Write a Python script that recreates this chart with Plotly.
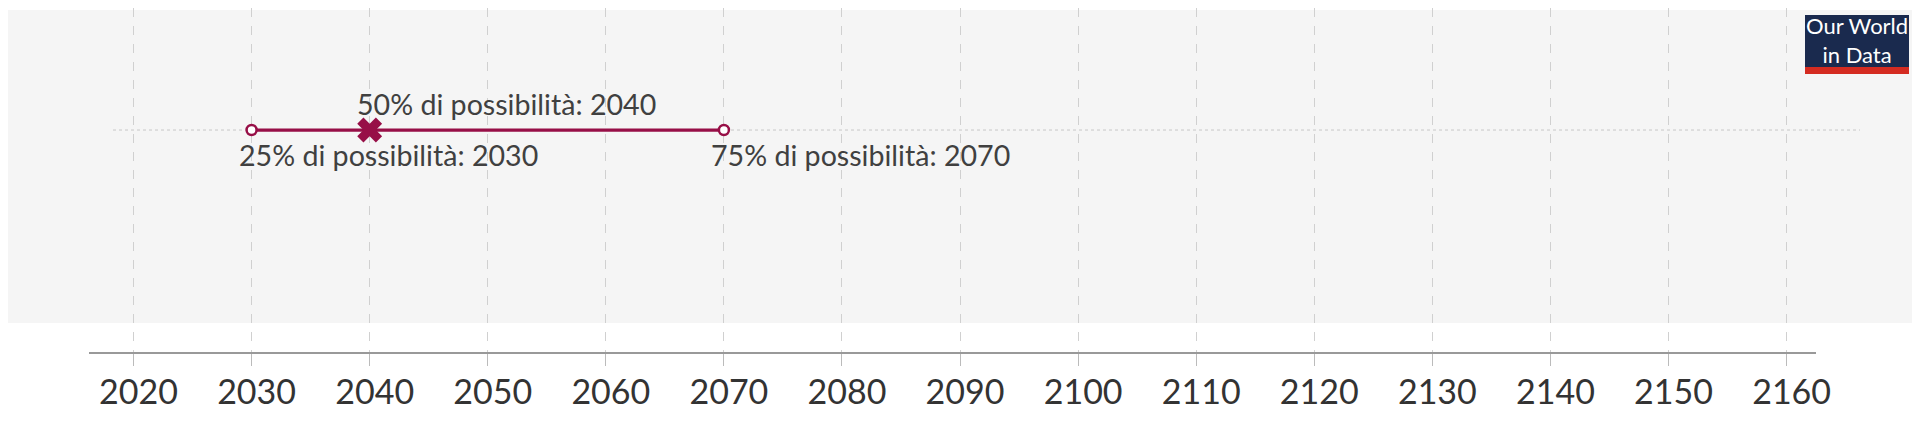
import plotly.graph_objects as go

# probability thresholds and the year they point to
chances = ["25%", "50%", "75%"]
years = [2030, 2040, 2070]
tick_years = list(range(2020, 2161, 10))

crimson = "#970f47"
text_color = "#404040"

# the page puts the figure 8px in from the corner, so work in page pixels
PLOT_L, PLOT_R, AXIS_Y = 89, 1816, 352
PLOT_W = PLOT_R - PLOT_L
PLOT_H = AXIS_Y - 8


def px(x):
    return (x - PLOT_L) / PLOT_W


def py(y):
    return (AXIS_Y - y) / PLOT_H


fig = go.Figure()

# range line between the 25% and 75% years
fig.add_trace(go.Scatter(
    x=[years[0], years[2]], y=[0, 0],
    mode="lines+markers",
    line=dict(color=crimson, width=3.2),
    marker=dict(symbol="circle", size=10, color="white",
                line=dict(color=crimson, width=2.5)),
    hoverinfo="skip",
))

# median year
fig.add_trace(go.Scatter(
    x=[years[1]], y=[0],
    mode="markers",
    marker=dict(symbol="x", size=22, color=crimson, line=dict(width=0)),
    hoverinfo="skip",
))

# labels: the median goes above the line, the others below
for chance, year in zip(chances, years):
    above = chance == "50%"
    fig.add_annotation(
        x=year, y=0, xref="x", yref="y",
        text=f"{chance} di possibilità: {year}",
        showarrow=False, xanchor="left", yanchor="middle",
        xshift=-15, yshift=26 if above else -25,
        font=dict(family="Lato", size=28.6, color=text_color),
    )

# grey panel behind the plot
fig.add_shape(type="rect", xref="paper", yref="paper",
              x0=px(-10), x1=px(1912), y0=py(323), y1=py(10),
              fillcolor="#f5f5f5", line=dict(width=0), layer="below")

# dotted row line
fig.add_shape(type="line", xref="paper", yref="y",
              x0=px(113), x1=px(1860), y0=0, y1=0,
              line=dict(color="#c8c8c8", width=1, dash="dot"), layer="below")

# logo
fig.add_shape(type="rect", xref="paper", yref="paper",
              x0=px(1805), x1=px(1909), y0=py(74), y1=py(15),
              fillcolor="#1a2a4e", line=dict(width=0))
fig.add_shape(type="rect", xref="paper", yref="paper",
              x0=px(1805), x1=px(1909), y0=py(74), y1=py(67),
              fillcolor="#d42b21", line=dict(width=0))
fig.add_annotation(
    x=px(1857), y=py(40), xref="paper", yref="paper",
    text="Our World<br>in Data", showarrow=False,
    xanchor="center", yanchor="middle",
    font=dict(family="Lato", size=22, color="white"),
)

fig.update_layout(
    width=1912, height=414,
    margin=dict(l=PLOT_L - 8, r=1912 - (PLOT_R - 8), t=0, b=414 - PLOT_H),
    paper_bgcolor="white",
    plot_bgcolor="rgba(0,0,0,0)",
    showlegend=False,
    xaxis=dict(
        range=[2016.23, 2162.49],
        tickvals=tick_years,
        showgrid=True, gridcolor="#d0d0d0", griddash="dash", gridwidth=1,
        showline=True, linecolor="#999999", linewidth=1.5,
        ticks="outside", ticklen=12, tickcolor="#bbbbbb",
        tickfont=dict(family="Lato", size=34, color="#333333"),
        ticklabelshift=5, ticklabelstandoff=-3,
        zeroline=False, fixedrange=True,
    ),
    yaxis=dict(
        range=[-1.819, 1], visible=False, showgrid=False,
        zeroline=False, fixedrange=True,
    ),
)

fig.write_html("out.html")
